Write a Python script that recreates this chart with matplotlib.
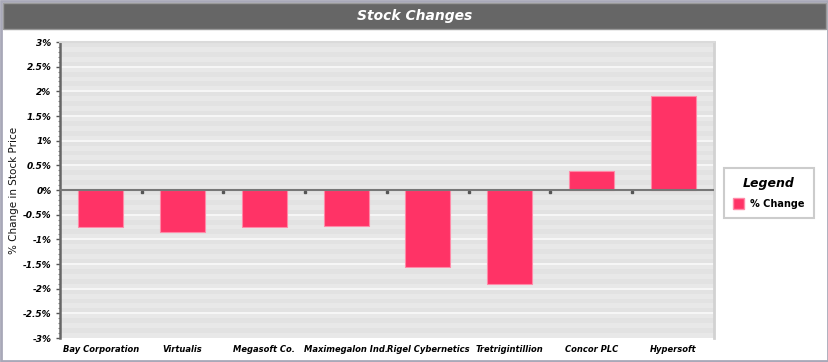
import matplotlib
matplotlib.use("Agg")
import matplotlib.pyplot as plt
import numpy as np
from matplotlib.patches import Rectangle, Patch

categories = ["Bay Corporation", "Virtualis", "Megasoft Co.", "Maximegalon Ind.",
              "Rigel Cybernetics", "Tretrigintillion", "Concor PLC", "Hypersoft"]
changes = [-0.76, -0.86, -0.74, -0.72, -1.57, -1.90, 0.39, 1.90]
yticks = [-3, -2.5, -2, -1.5, -1, -0.5, 0, 0.5, 1, 1.5, 2, 2.5, 3]
ytick_labels = ["%g%%" % v for v in yticks]

bar_color = "#ff3366"

fig = plt.figure(figsize=(8.29, 3.62), dpi=100)
W, H = 829, 362

# outer frame + title bar
fig.patches.append(Rectangle((1 / W, 1 / H), 827 / W, 360 / H, transform=fig.transFigure,
                             fill=False, edgecolor="#a8a8b8", lw=2))
fig.patches.append(Rectangle((3 / W, 1 - 29 / H), 823 / W, 26 / H, transform=fig.transFigure,
                             facecolor="#666666", edgecolor="#999999", lw=1))
fig.text(0.5, 1 - 16 / H, "Stock Changes", color="white", fontsize=10,
         fontweight="bold", fontstyle="italic", ha="center", va="center")

ax = fig.add_axes([60 / W, 1 - 338 / H, 654 / W, 296 / H])
ax.set_facecolor("#e2e2e2")

# striped background
minor = np.arange(-3, 3, 0.1)
for i, y in enumerate(minor):
    if i % 2 == 0:
        ax.axhspan(y, y + 0.1, color="#e8e8e8", lw=0, zorder=0)
for y in yticks[1:-1]:
    ax.axhline(y, color="#f6f6f6", lw=1.5, zorder=0.5)

x = np.arange(len(categories))
ax.bar(x, changes, width=0.55, color=bar_color, edgecolor="#ff8aa8", lw=0.8, zorder=2)

ax.axhline(0, color="#777777", lw=1.5, zorder=3)
ax.plot(np.arange(len(categories) - 1) + 0.5, np.zeros(len(categories) - 1) - 0.05, "s",
        color="#555555", ms=1.8, zorder=3)

ax.set_xlim(-0.5, len(categories) - 0.5)
ax.set_ylim(-3, 3)
ax.set_xticks(x)
ax.set_xticklabels(categories, fontsize=6, fontweight="bold", fontstyle="italic")
ax.tick_params(axis="x", length=0, pad=5)
ax.set_yticks(yticks)
ax.set_yticklabels(ytick_labels, fontsize=6.5, fontweight="bold", fontstyle="italic")
ax.set_yticks(np.arange(-3, 3.01, 0.1), minor=True)
ax.tick_params(axis="y", which="major", length=3, width=1, color="#555555", pad=3)
ax.tick_params(axis="y", which="minor", length=1.2, width=0.8, color="#888888")

ax.spines["left"].set_color("#666666")
ax.spines["left"].set_linewidth(1.8)
ax.spines["right"].set_color("#d2d2d2")
ax.spines["right"].set_linewidth(2)
ax.spines["top"].set_color("#dadada")
ax.spines["top"].set_linewidth(1.5)
ax.spines["bottom"].set_visible(False)

fig.text(14 / W, 1 - 190 / H, "% Change in Stock Price", rotation=90, fontsize=7.5,
         ha="center", va="center", color="#111111")

leg = fig.legend(handles=[Patch(facecolor=bar_color, edgecolor="#ff8aa8", label="% Change")],
                 loc="center", bbox_to_anchor=(769 / W, 1 - 193 / H), title="Legend",
                 fancybox=False, edgecolor="#cccccc", framealpha=1,
                 prop={"size": 7, "weight": "bold"}, handlelength=1.1, handleheight=1.3,
                 borderpad=1.0, handletextpad=0.6, labelspacing=0.8)
leg.get_title().set_fontsize(9)
leg.get_title().set_fontweight("bold")
leg.get_title().set_fontstyle("italic")
leg.get_frame().set_linewidth(1.5)

fig.savefig("out.png", dpi=100)
